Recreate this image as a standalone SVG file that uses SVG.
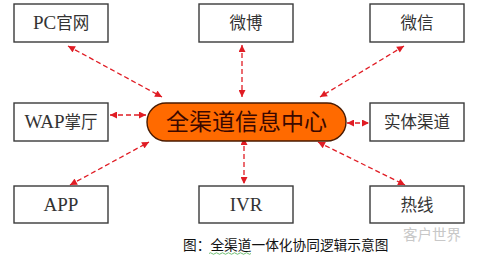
<svg xmlns="http://www.w3.org/2000/svg" width="480" height="260" viewBox="0 0 480 260">
<defs>
<style>
.box{fill:#fff;stroke:#3a3a3a;stroke-width:1.4}
.lbl{font-family:"Liberation Serif","Noto Sans CJK SC",serif;font-size:16.5px;fill:#333;text-anchor:middle}
.lat{font-size:19px}
.con{stroke:#e01c24;stroke-width:1.3;stroke-dasharray:5 3;fill:none}
</style>
<marker id="ah" viewBox="0 0 10 10" refX="10" refY="5" markerWidth="8" markerHeight="7" markerUnits="userSpaceOnUse" orient="auto-start-reverse">
<path d="M0,0 L10,5 L0,10 z" fill="#e01c24"/>
</marker>
</defs>
<rect width="480" height="260" fill="#fff"/>
<g id="connectors">
<line class="con" x1="68" y1="46" x2="162" y2="97" marker-start="url(#ah)" marker-end="url(#ah)"/>
<line class="con" x1="242" y1="45" x2="242" y2="97" marker-start="url(#ah)" marker-end="url(#ah)"/>
<line class="con" x1="404" y1="46" x2="320" y2="97" marker-start="url(#ah)" marker-end="url(#ah)"/>
<line class="con" x1="110" y1="115" x2="146" y2="115" marker-start="url(#ah)" marker-end="url(#ah)"/>
<line class="con" x1="347" y1="123" x2="369" y2="123" marker-start="url(#ah)" marker-end="url(#ah)"/>
<line class="con" x1="70" y1="185" x2="149" y2="142" marker-start="url(#ah)" marker-end="url(#ah)"/>
<line class="con" x1="244" y1="138" x2="244" y2="184" marker-start="url(#ah)" marker-end="url(#ah)"/>
<line class="con" x1="318" y1="142" x2="405" y2="185" marker-start="url(#ah)" marker-end="url(#ah)"/>
</g>
<g id="center">
<rect x="147" y="103" width="199" height="38" rx="19" ry="19" fill="#ff6a00" stroke="#4a1a00" stroke-width="1.4"/>
<text x="246.5" y="129.5" style="font-family:'Noto Sans CJK SC',sans-serif;font-size:23px;fill:#3a0800;text-anchor:middle">全渠道信息中心</text>
</g>
<g id="pc"><rect class="box" x="14" y="4" width="94" height="38"/><text class="lbl" x="61" y="29"><tspan class="lat">PC</tspan>官网</text></g>
<g id="weibo"><rect class="box" x="199" y="4" width="94" height="38"/><text class="lbl" x="246" y="29">微博</text></g>
<g id="weixin"><rect class="box" x="370" y="4" width="94" height="38"/><text class="lbl" x="417" y="29">微信</text></g>
<g id="wap"><rect class="box" x="14" y="103" width="94" height="38"/><text class="lbl" x="61" y="128"><tspan class="lat">WAP</tspan>掌厅</text></g>
<g id="shiti"><rect class="box" x="370" y="103" width="94" height="38"/><text class="lbl" x="417" y="128">实体渠道</text></g>
<g id="app"><rect class="box" x="14" y="186" width="94" height="37"/><text class="lbl" x="61" y="211"><tspan class="lat">APP</tspan></text></g>
<g id="ivr"><rect class="box" x="199" y="186" width="94" height="37"/><text class="lbl" x="246" y="211"><tspan class="lat">IVR</tspan></text></g>
<g id="rexian"><rect class="box" x="370" y="186" width="94" height="37"/><text class="lbl" x="417" y="211">热线</text></g>
<text x="183" y="250" style="font-family:'Noto Sans CJK SC',sans-serif;font-size:13.7px;fill:#111">图：全渠道一体化协同逻辑示意图</text>
<path d="M209,253.5 q1.5,-1.5 3,0 t3,0 t3,0 t3,0 t3,0 t3,0 t3,0 t3,0 t3,0 t3,0 t3,0 t3,0 t3,0 t3,0" fill="none" stroke="#4caf50" stroke-width="0.8"/>
<text x="403" y="240" style="font-family:'Noto Sans CJK SC',sans-serif;font-size:14.5px;fill:#c8c8c8">客户世界</text>
</svg>
